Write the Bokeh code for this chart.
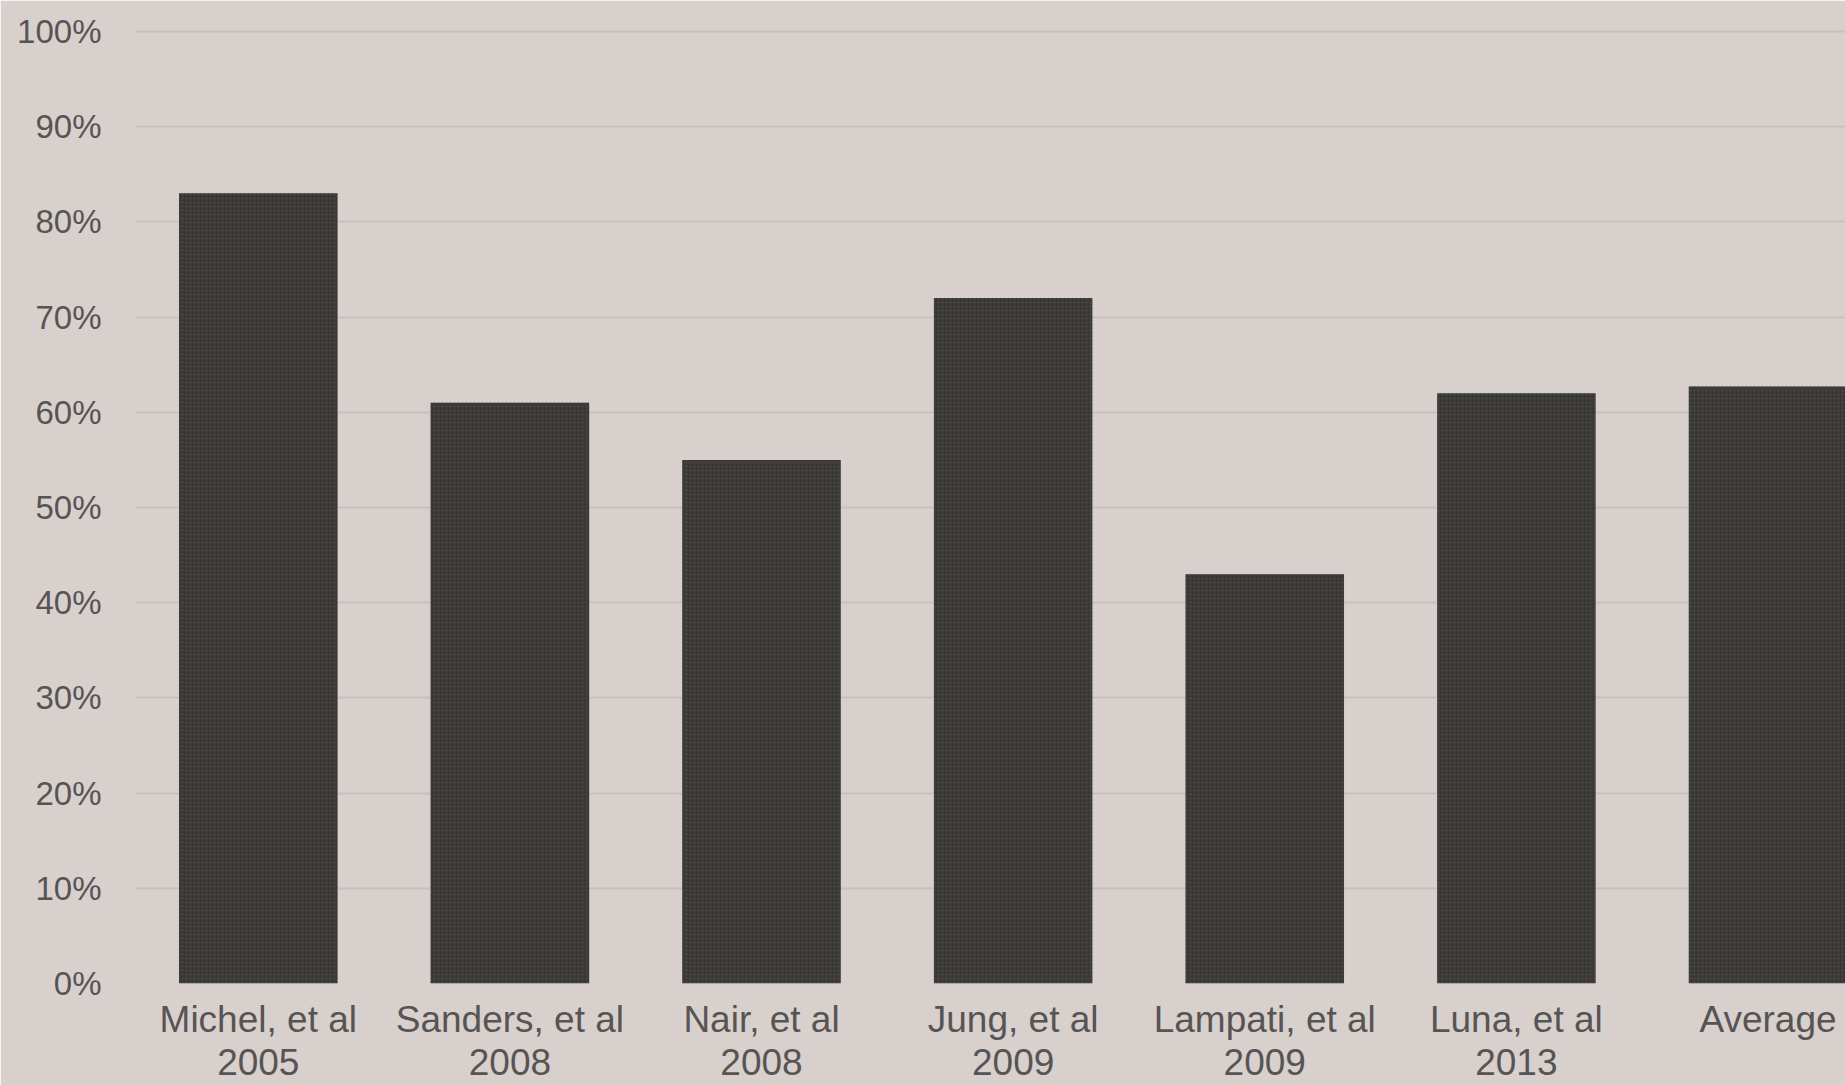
from bokeh.plotting import figure
from bokeh.models import Range1d, FixedTicker, ColumnDataSource
from bokeh.embed import file_html
from bokeh.resources import INLINE

# ---- data ----
studies = ["Michel, et al", "Sanders, et al", "Nair, et al", "Jung, et al",
           "Lampati, et al", "Luna, et al", "Average"]
years = ["2005", "2008", "2008", "2009", "2009", "2013", ""]
values = [0.83, 0.61, 0.55, 0.72, 0.43, 0.62, 0.627]
y_ticks = [0.0, 0.1, 0.2, 0.3, 0.4, 0.5, 0.6, 0.7, 0.8, 0.9, 1.0]

BG = "#d8d0cd"
GRID = "#c8c0bd"
BAR = "#3a3737"
TXT = "#575454"

xs = list(range(len(studies)))
src = ColumnDataSource(dict(x=xs, top=values, name=studies))

p = figure(width=1845, height=1085, output_backend="svg", toolbar_location=None,
           x_range=Range1d(-0.488, 6.308), y_range=Range1d(0, 1.02),
           min_border_left=135, min_border_right=0, min_border_top=12,
           min_border_bottom=100)
p.background_fill_color = BG
p.border_fill_color = BG
p.outline_line_color = BG
p.outline_line_width = 2

p.vbar(x="x", top="top", bottom=0, width=0.63, source=src,
       fill_color=BAR, line_color=None,
       hatch_pattern="dot", hatch_color="#4f4b4b", hatch_scale=4, hatch_weight=1.2)

# axes
p.xaxis.ticker = FixedTicker(ticks=xs)
p.xaxis.major_label_overrides = {i: (s + "\n" + y if y else s)
                                 for i, (s, y) in enumerate(zip(studies, years))}
p.xaxis.axis_line_color = None
p.xaxis.major_tick_line_color = None
p.xaxis.minor_tick_line_color = None
p.xaxis.major_label_text_font = "Liberation Sans"
p.xaxis.major_label_text_font_size = "37px"
p.xaxis.major_label_text_line_height = 1.05
p.xaxis.major_label_text_color = TXT
p.xaxis.major_label_standoff = 9
p.xgrid.grid_line_color = None

p.yaxis.ticker = FixedTicker(ticks=y_ticks)
p.yaxis.major_label_overrides = {t: f"{int(round(t*100))}%" for t in y_ticks}
p.yaxis.axis_line_color = None
p.yaxis.major_tick_line_color = None
p.yaxis.minor_tick_line_color = None
p.yaxis.major_label_text_font = "Liberation Sans"
p.yaxis.major_label_text_font_size = "33px"
p.yaxis.major_label_text_color = TXT
p.yaxis.major_label_standoff = 28
p.ygrid.grid_line_color = GRID
p.ygrid.grid_line_width = 2

open("out.html", "w").write(file_html(p, INLINE))
